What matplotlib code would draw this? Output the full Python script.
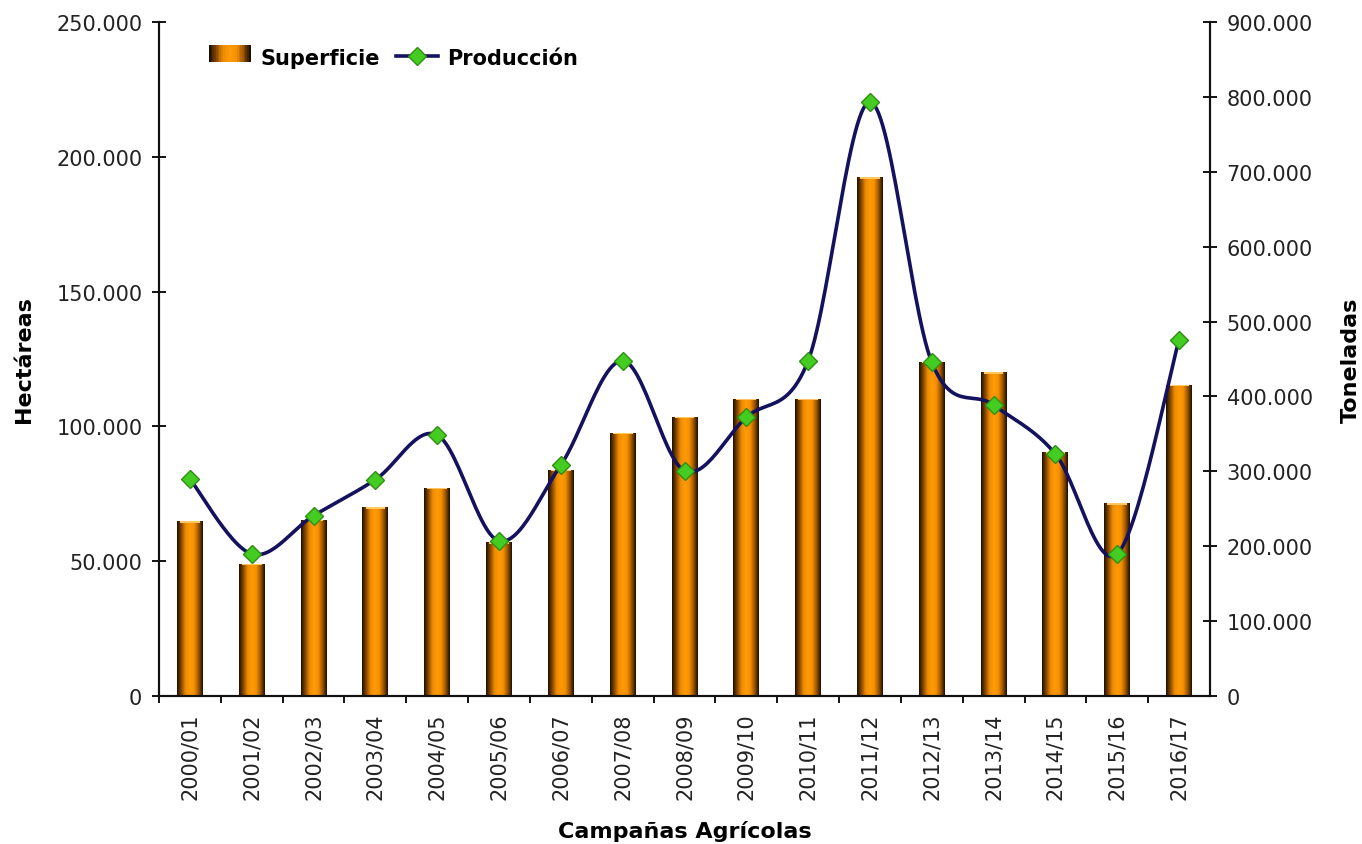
import matplotlib
matplotlib.use("Agg")
import matplotlib.pyplot as plt
import numpy as np
from matplotlib.colors import LinearSegmentedColormap
from matplotlib.legend_handler import HandlerBase
from matplotlib.lines import Line2D
from matplotlib.patches import Rectangle
from matplotlib.ticker import FuncFormatter, MultipleLocator

campaigns = ["2000/01", "2001/02", "2002/03", "2003/04", "2004/05", "2005/06",
             "2006/07", "2007/08", "2008/09", "2009/10", "2010/11", "2011/12",
             "2012/13", "2013/14", "2014/15", "2015/16", "2016/17"]
superficie = [64750, 48900, 65300, 69900, 77200, 56950, 83900, 97600, 103600,
              110100, 110100, 192500, 124000, 120000, 90400, 71400, 115300]
produccion = [289600, 189400, 240600, 288700, 348400, 206800, 308300, 447700,
              300700, 372100, 447700, 793500, 445600, 388500, 323000, 189400,
              475800]

BAR_CMAP = LinearSegmentedColormap.from_list(
    "cyl", ["#1e1000", "#8a4a00", "#f08c00", "#ff9a08", "#f59000", "#a05800", "#1e1000"])
LINE_C = "#14125e"
DIAMOND_FC = "#44cc22"
DIAMOND_EC = "#2f8f10"
TXT = "#222222"


def thousands(v, _):
    return f"{int(round(v)):,}".replace(",", ".")


def smooth(x, y, n=30):
    """Bezier smoothing (Catmull-Rom control points, like spreadsheet 'smoothed line')."""
    pts = np.column_stack([np.asarray(x, float), np.asarray(y, float)])
    out = [pts[0]]
    t = np.linspace(0, 1, n)[1:, None]
    for i in range(len(pts) - 1):
        p0 = pts[i - 1] if i > 0 else pts[i]
        p3 = pts[i + 2] if i + 2 < len(pts) else pts[i + 1]
        a, b = pts[i], pts[i + 1]
        c1 = a + (b - p0) / 6
        c2 = b - (p3 - a) / 6
        seg = ((1 - t) ** 3) * a + 3 * ((1 - t) ** 2) * t * c1 + 3 * (1 - t) * t ** 2 * c2 + t ** 3 * b
        out.extend(seg)
    out = np.array(out)
    return out[:, 0], out[:, 1]


class GradientHandler(HandlerBase):
    def create_artists(self, legend, orig, xd, yd, w, h, fontsize, trans):
        n = 24
        return [Rectangle((xd + k * w / n, yd), w / n * 1.05, h,
                          facecolor=BAR_CMAP(k / (n - 1)), edgecolor="none",
                          transform=trans) for k in range(n)]


fig = plt.figure(figsize=(13.62, 8.45), dpi=100)
ax = fig.add_axes([159 / 1362, 1 - 696.7 / 845, (1210 - 159) / 1362, 673.4 / 845])
ax2 = ax.twinx()

x = np.arange(len(campaigns))
bars = ax.bar(x, superficie, width=0.42, facecolor="none", edgecolor="none", zorder=2)
grad = np.linspace(0, 1, 64).reshape(1, -1)
for b in bars:
    x0, w, h = b.get_x(), b.get_width(), b.get_height()
    im = ax.imshow(grad, extent=[x0, x0 + w, 0, h], aspect="auto", cmap=BAR_CMAP,
                   origin="lower", zorder=2, interpolation="bilinear")
    im.set_clip_path(b)
    ax.add_patch(Rectangle((x0 + w * 0.12, h - 500), w * 0.76, 500,
                           facecolor="#ffc860", edgecolor="none", zorder=3))

ax.set_xlim(-0.5, len(campaigns) - 0.5)
ax.set_ylim(0, 250000)
ax2.set_ylim(0, 900000)

sx, sy = smooth(x, produccion)
ax2.plot(sx, sy, color=LINE_C, lw=2.6, zorder=4, solid_capstyle="round")
ax2.plot(x, produccion, ls="none", marker="D", ms=9, mfc=DIAMOND_FC, mec=DIAMOND_EC,
         mew=1, zorder=5)

for a in (ax, ax2):
    a.spines["top"].set_visible(False)
    for s in ("left", "right", "bottom"):
        a.spines[s].set_linewidth(1.5)
        a.spines[s].set_color("#111111")

ax.yaxis.set_major_locator(MultipleLocator(50000))
ax2.yaxis.set_major_locator(MultipleLocator(100000))
ax.yaxis.set_major_formatter(FuncFormatter(thousands))
ax2.yaxis.set_major_formatter(FuncFormatter(thousands))
for a in (ax, ax2):
    a.tick_params(axis="y", direction="inout", length=10, width=1.3, pad=7,
                  labelsize=15, labelcolor=TXT)

ax.set_xticks(x)
ax.set_xticklabels(campaigns, rotation=90, fontsize=15, color=TXT)
ax.tick_params(axis="x", which="major", length=0, pad=12)
ax.set_xticks(np.arange(-0.5, len(campaigns) - 0.5, 1), minor=True)
ax.tick_params(axis="x", which="minor", direction="out", length=5, width=1.3)

ax.set_ylabel("Hectáreas", fontsize=16, fontweight="bold", labelpad=16)
ax2.set_ylabel("Toneladas", fontsize=16, fontweight="bold", labelpad=20)
ax.set_xlabel("Campañas Agrícolas", fontsize=16, fontweight="bold", labelpad=15)

h_bar = Rectangle((0, 0), 1, 1)
h_line = Line2D([], [], color=LINE_C, lw=2.6, marker="D", ms=9, mfc=DIAMOND_FC,
                mec=DIAMOND_EC)
ax2.legend([h_bar, h_line], ["Superficie", "Producción"], ncol=2, frameon=False,
           loc="upper left", bbox_to_anchor=((209 - 159) / 1051, 0.962),
           borderaxespad=0, borderpad=0, handlelength=2.0, handleheight=0.9,
           handletextpad=0.45, columnspacing=0.8,
           prop={"weight": "bold", "size": 15},
           handler_map={Rectangle: GradientHandler()})

fig.savefig("out.png", dpi=100)
